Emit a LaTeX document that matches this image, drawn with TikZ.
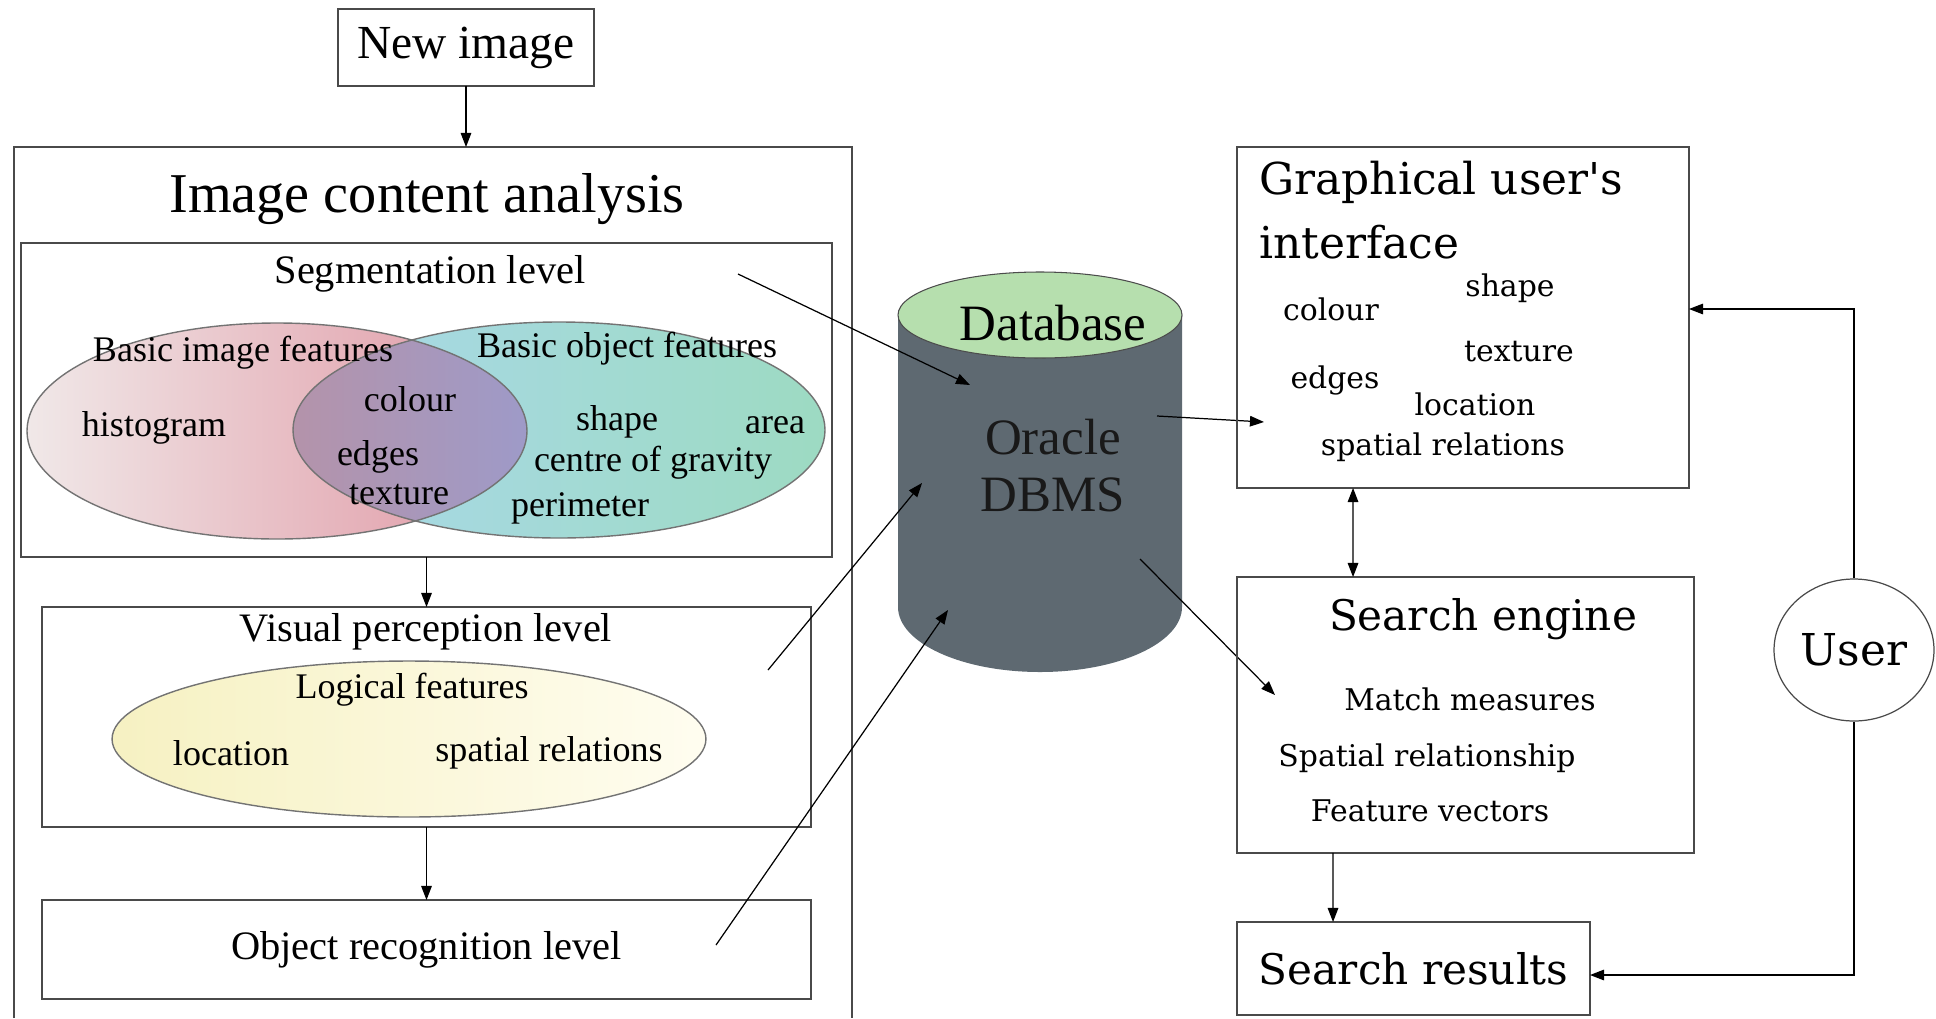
\documentclass[tikz,border=0pt]{standalone}
\usepackage{fontspec}
\setmainfont{Liberation Serif}
\newfontfamily\guifont{DejaVu Serif}
\usepackage{xcolor}
\usetikzlibrary{arrows.meta,positioning,shapes.geometric}

\definecolor{framegray}{HTML}{4A4A4A}
\definecolor{pinkA}{HTML}{F0E8E8}
\definecolor{pinkB}{HTML}{E096A3}
\definecolor{mixA}{HTML}{B493AA}
\definecolor{mixB}{HTML}{9E9AC8}
\definecolor{blueA}{HTML}{A9D9EA}
\definecolor{blueB}{HTML}{9DDAC2}
\definecolor{yelA}{HTML}{F6F1C2}
\definecolor{yelB}{HTML}{FAF4B2}
\definecolor{yelC}{HTML}{FFFDF0}
\definecolor{dbbody}{HTML}{5E6971}
\definecolor{dbtop}{HTML}{B6DFAE}

\begin{document}
\begin{tikzpicture}[
  x=0.02cm, y=-0.02cm,
  >={Triangle[length=8pt,width=6pt]},
  box/.style={draw=framegray, line width=0.7pt, inner sep=0pt, outer sep=0pt},
  ell/.style={ellipse, inner sep=0pt, outer sep=0pt},
  rim/.style={draw=black!55, line width=0.8pt},
  lvl/.style={font=\fontsize{23}{27}\selectfont},
  feat/.style={font=\fontsize{20.5}{24}\selectfont},
  gtitle/.style={font=\guifont\fontsize{24}{29}\selectfont},
  gfeat/.style={font=\guifont\fontsize{17}{20}\selectfont},
  dbtxt/.style={font=\fontsize{29}{32.5}\selectfont},
  arr/.style={->, line width=0.7pt}
]
\useasboundingbox (0,0) rectangle (1936,1018);

% image content analysis
\node[box, minimum width=5.12cm, minimum height=1.54cm, font=\fontsize{27}{32}\selectfont] (newimg) at (466,47.5) {New image};
\draw[box] (14,1018) |- (852,147) -- (852,1018);
\coordinate (icatop) at (466,147);
\node[font=\fontsize{32}{38}\selectfont] (icatitle) at (427,199) {Image content analysis};

\node[box, minimum width=16.22cm, minimum height=6.28cm] (seg) at (426.5,400) {};
\node[lvl] (segtitle) at (430,274) {Segmentation level};
\node[ell, minimum width=10cm, minimum height=4.32cm, left color=pinkA, right color=pinkB] (imgfeat) at (277,431) {};
\node[ell, minimum width=10.64cm, minimum height=4.32cm, left color=blueA, right color=blueB] (objfeat) at (559,430) {};
\begin{scope}
  \clip (277,431) ellipse (250 and 108);
  \clip (559,430) ellipse (266 and 108);
  \fill[left color=mixA, right color=mixB] (293,320) rectangle (528,542);
\end{scope}
\draw[rim] (277,431) ellipse (250 and 108);
\draw[rim] (559,430) ellipse (266 and 108);
\node[feat] (bif) at (243,353) {Basic image features};
\node[feat] (bof) at (627,349) {Basic object features};
\node[feat] (hist) at (154,428) {histogram};
\node[feat] (colour) at (410,399) {colour};
\node[feat] (edges) at (378,457) {edges};
\node[feat] (texture) at (399,495) {texture};
\node[feat] (shape) at (617,422) {shape};
\node[feat] (area) at (775,425) {area};
\node[feat] (gravity) at (653,463) {centre of gravity};
\node[feat] (perim) at (580,508) {perimeter};

\node[box, minimum width=15.38cm, minimum height=4.4cm] (vp) at (426.5,717) {};
\node[lvl] (vptitle) at (426,632) {Visual perception level};
\node[ell, rim, minimum width=11.88cm, minimum height=3.12cm, left color=yelA, middle color=yelB, right color=yelC] (logfeat) at (409,739) {};
\node[feat] (logtitle) at (412,690) {Logical features};
\node[feat] (loc) at (231,753) {location};
\node[feat] (spat) at (549,753) {spatial relations};

\node[box, lvl, minimum width=15.38cm, minimum height=1.98cm] (objrec) at (426.5,949.5) {Object recognition level};

\draw[arr] (newimg) -- (icatop);
\draw[arr] (seg) -- (vp);
\draw[arr] (vp) -- (objrec);

% database
\fill[dbbody] (898,315) -- (898,607) arc[start angle=180, end angle=0, x radius=142, y radius=65] -- (1182,315) -- cycle;
\draw[fill=dbtop, draw=black!70, line width=0.6pt] (1040,315) ellipse (142 and 43);
\node[dbtxt] (dbname) at (1053,323) {Database};
\node[dbtxt, align=center, text=black!90] (dbms) at (1053,466) {Oracle\\DBMS};

\coordinate (segout) at (738,274);
\coordinate (vpout) at (768,670);
\coordinate (orout) at (716,945);
\coordinate (dbin1) at (970,385);
\coordinate (dbin2) at (922,483);
\coordinate (dbin3) at (948,610);
\coordinate (dbout1) at (1157,416);
\coordinate (dbout2) at (1140,559);
\coordinate (guiin) at (1264,422);
\coordinate (sein) at (1275,695);

\draw[arr] (segout) -- (dbin1);
\draw[arr] (vpout) -- (dbin2);
\draw[arr] (orout) -- (dbin3);
\draw[arr] (dbout1) -- (guiin);
\draw[arr] (dbout2) -- (sein);

% user side
\node[box, minimum width=9.04cm, minimum height=6.82cm] (gui) at (1463,317.5) {};
\node[anchor=west, inner sep=0pt, font=\guifont\fontsize{25}{30}\selectfont] (guit1) at (1259,182) {Graphical user's};
\node[anchor=west, inner sep=0pt, font=\guifont\fontsize{25}{30}\selectfont] (guit2) at (1259,242) {interface};
\node[gfeat] (gcolour) at (1331,309) {colour};
\node[gfeat] (gshape) at (1510,288) {shape};
\node[gfeat] (gtexture) at (1519,352) {texture};
\node[gfeat] (gedges) at (1335,380) {edges};
\node[gfeat] (gloc) at (1475,404) {location};
\node[gfeat] (gspat) at (1443,447) {spatial relations};

\node[box, minimum width=9.14cm, minimum height=5.52cm] (se) at (1465.5,715) {};
\node[gtitle] (setitle) at (1483,619) {Search engine};
\node[gfeat] (match) at (1470,699) {Match measures};
\node[gfeat] (spatrel) at (1427,758) {Spatial relationship};
\node[gfeat] (fvec) at (1430,811) {Feature vectors};

\node[box, gtitle, minimum width=7.06cm, minimum height=1.86cm] (sr) at (1413.5,968.5) {Search results};
\node[ellipse, draw=framegray, line width=0.7pt, inner sep=0pt, minimum width=3.2cm, minimum height=2.84cm, font=\guifont\fontsize{25}{30}\selectfont] (user) at (1854,650) {User};

\draw[arr, <->] ([xshift=2.32cm]gui.south west) -- ([xshift=2.32cm]se.north west);
\draw[arr] ([xshift=1.92cm]se.south west) -- ([xshift=1.92cm]sr.north west);
\draw[arr] (user.north) |- ([yshift=0.17cm]gui.east);
\draw[arr] (user.south) |- ([yshift=-0.13cm]sr.east);
\end{tikzpicture}
\end{document}
